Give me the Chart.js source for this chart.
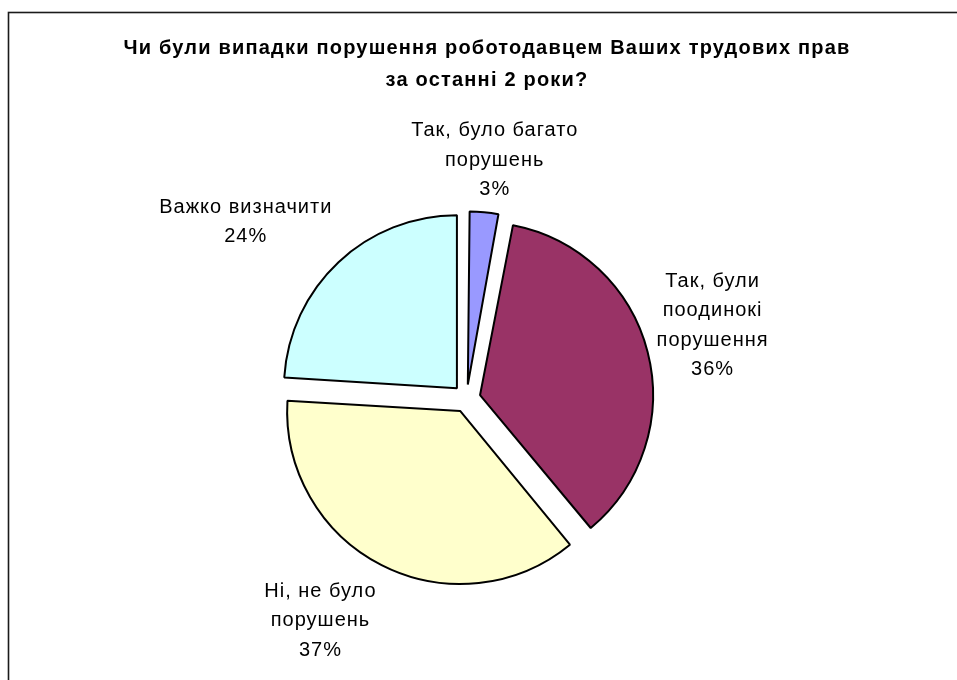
<!DOCTYPE html>
<html lang="uk">
<head>
<meta charset="utf-8">
<title>Порушення трудових прав</title>
<script src="https://cdn.jsdelivr.net/npm/chart.js@4.4.1/dist/chart.umd.min.js"></script>
<style>
  html, body { margin: 0; padding: 0; background: #fff; }
  #wrap { width: 957px; height: 680px; position: relative; }
</style>
</head>
<body>
<div id="wrap"><canvas id="pie" width="957" height="680"></canvas></div>
<script>
// Survey answers, in drawing order (clockwise from 12 o'clock)
const categories = [
  ['Так, було багато', 'порушень'],
  ['Так, були', 'поодинокі', 'порушення'],
  ['Ні, не було', 'порушень'],
  ['Важко визначити']
];
const shares = [3, 36, 37, 24];
const sliceColors = ['#9999FF', '#993366', '#FFFFCC', '#CCFFFF'];
const titleLines = [
  'Чи були випадки порушення роботодавцем Ваших трудових прав',
  'за останні 2 роки?'
];

const FONT = '"Liberation Sans", Arial, "DejaVu Sans", sans-serif';
const PIE_RADIUS = 173;
const EXPLODE = 14;           // how far each slice is pulled out, px
const ARC_OFFSET = EXPLODE * 4; // Chart.js moves an arc by offset / 4

// White page, thin frame and the two-line bold heading
const framePlugin = {
  id: 'frameAndHeading',
  beforeDraw(chart) {
    const ctx = chart.ctx;
    ctx.save();
    ctx.fillStyle = '#fff';
    ctx.fillRect(0, 0, chart.width, chart.height);
    ctx.strokeStyle = '#1a1a1a';
    ctx.lineWidth = 1.6;
    ctx.strokeRect(8.5, 12.5, chart.width + 20, chart.height + 20);
    ctx.fillStyle = '#000';
    ctx.font = 'bold 20px ' + FONT;
    ctx.textAlign = 'center';
    ctx.textBaseline = 'alphabetic';
    if ('letterSpacing' in ctx) ctx.letterSpacing = '1.2px';
    ctx.fillText(titleLines[0], 487, 54);
    ctx.fillText(titleLines[1], 487, 86);
    ctx.restore();
  }
};

// Chart.js also grows an offset arc's radius (more for thin slices);
// pull every slice back to the common pie radius before drawing.
const evenRadius = {
  id: 'evenRadius',
  beforeDatasetsDraw(chart) {
    chart.getDatasetMeta(0).data.forEach(arc => {
      const circ = arc.endAngle - arc.startAngle;
      const grow = (ARC_OFFSET / 4) * (1 - Math.sin(Math.min(Math.PI, circ)));
      arc.outerRadius = PIE_RADIUS - grow;
    });
  }
};

// Category name and percentage outside each slice
const outsideLabels = {
  id: 'outsideLabels',
  afterDatasetsDraw(chart, args, opts) {
    const ctx = chart.ctx;
    const meta = chart.getDatasetMeta(0);
    const total = shares.reduce((a, b) => a + b, 0);
    const lh = opts.lineHeight;
    ctx.save();
    ctx.font = opts.size + 'px ' + FONT;
    if ('letterSpacing' in ctx) ctx.letterSpacing = opts.spacing + 'px';
    ctx.fillStyle = '#000';
    ctx.textAlign = 'center';
    ctx.textBaseline = 'middle';
    meta.data.forEach((arc, i) => {
      const p = arc.getProps(['x', 'y', 'startAngle', 'endAngle'], true);
      const mid = (p.startAngle + p.endAngle) / 2;
      const dx = Math.cos(mid), dy = Math.sin(mid);
      const lines = categories[i].concat([Math.round(shares[i] / total * 100) + '%']);
      const w = Math.max(...lines.map(l => ctx.measureText(l).width));
      const h = lines.length * lh;
      const r = PIE_RADIUS + EXPLODE + opts.gap;
      const nudge = opts.nudge[i] || [0, 0];
      const cx = p.x + dx * r + dx * w / 2 + nudge[0];
      const cy = p.y + dy * r + dy * h / 2 + nudge[1];
      lines.forEach((line, k) => {
        ctx.fillText(line, cx, cy - h / 2 + lh * (k + 0.5));
      });
    });
    ctx.restore();
  }
};

new Chart(document.getElementById('pie'), {
  type: 'pie',
  data: {
    labels: categories.map(c => c.join(' ')),
    datasets: [{
      data: shares,
      backgroundColor: sliceColors,
      borderColor: '#000',
      borderWidth: 2,
      offset: ARC_OFFSET
    }]
  },
  options: {
    responsive: false,
    animation: false,
    devicePixelRatio: 1,
    radius: PIE_RADIUS,
    layout: { padding: { left: 0, right: 24, top: 117, bottom: 0 } },
    plugins: {
      legend: { display: false },
      title: { display: false },
      tooltip: { enabled: false },
      outsideLabels: {
        size: 20,
        spacing: 1.0,
        lineHeight: 29.5,
        gap: 8,
        nudge: [[2, 0], [3, -10], [-32, 9], [-28, -13]]
      }
    }
  },
  plugins: [framePlugin, evenRadius, outsideLabels]
});
</script>
</body>
</html>
